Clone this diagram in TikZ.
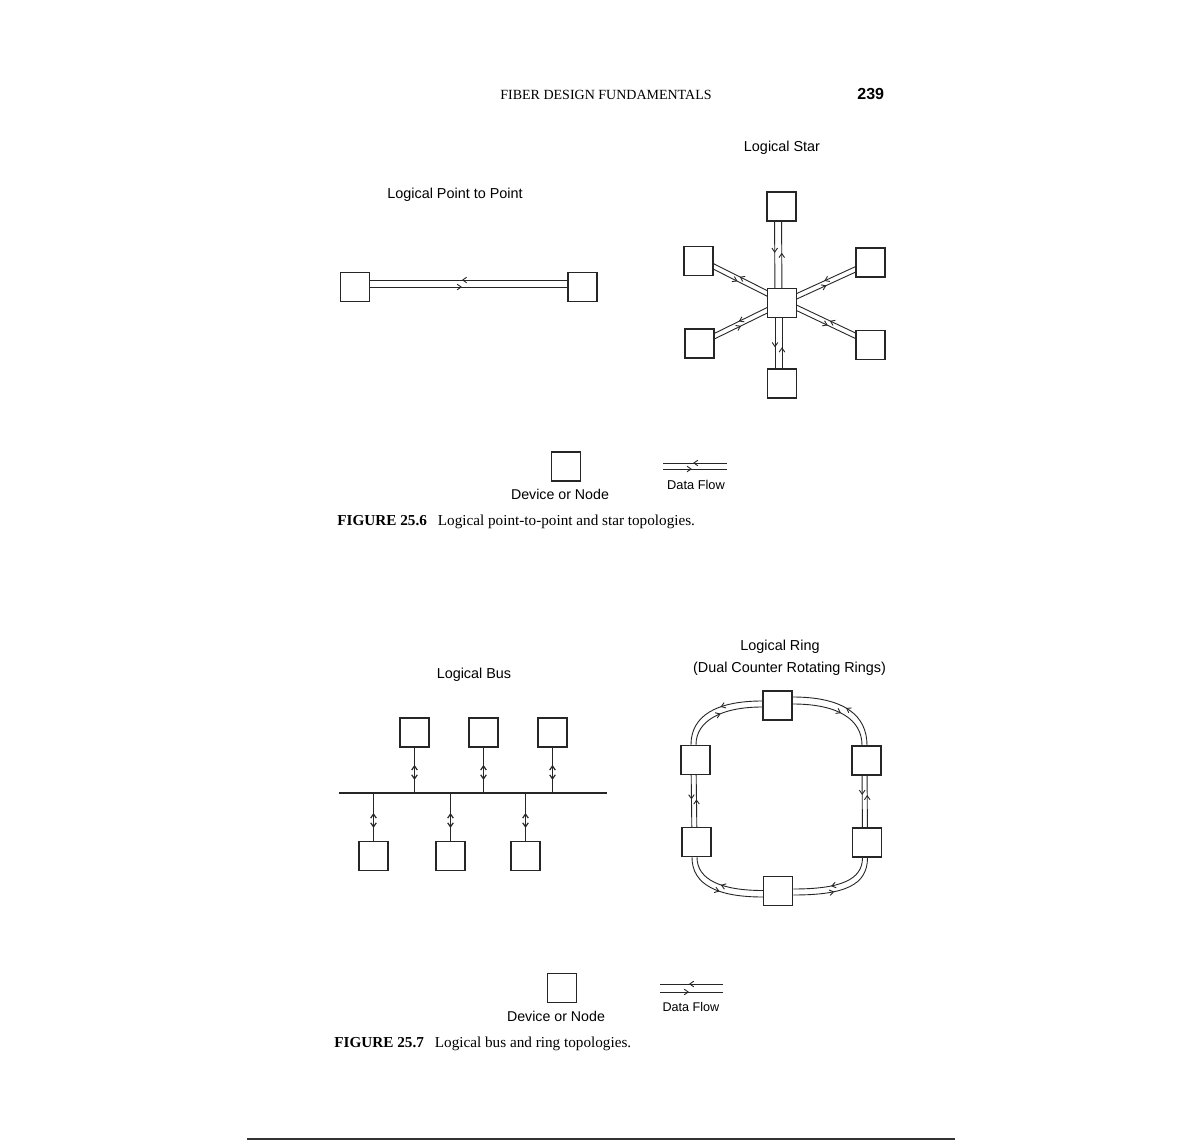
\documentclass[tikz,border=0pt]{standalone}
\usepackage{fontspec}
\setmainfont{Liberation Sans}
\newfontfamily\capfont{Liberation Serif}
\usetikzlibrary{arrows.meta,decorations.markings,calc,backgrounds}
\tikzset{
  fl/.tip={Straight Barb[length=2pt,width=2.8pt]},
  dev/.style={draw=black!85, fill=white, line width=0.75pt, minimum size=14.5pt, inner sep=0pt},
  fline/.style={draw=black!85, line width=0.45pt},
  busline/.style={draw=black!85, line width=0.6pt},
  fwd/.style={postaction={decorate},decoration={markings,mark=at position #1 with {\arrow{fl}}}},
  rev/.style={postaction={decorate},decoration={markings,mark=at position #1 with {\arrowreversed{fl}}}},
  bistem/.style 2 args={postaction={decorate},decoration={markings,
     mark=at position #1 with {\arrowreversed{fl}},
     mark=at position #2 with {\arrow{fl}}}},
  lbl/.style={font=\fontsize{7.2}{8.6}\selectfont, inner sep=0pt},
  capt/.style={font=\capfont\fontsize{7.6}{9}\selectfont, inner sep=0pt, anchor=base west}
}
\newcommand\twoway[6]{%
  \draw[fline,rev=#5] ($(#1.center)!#3!90:(#2.center)$) -- ($(#2.center)!#3!-90:(#1.center)$);
  \draw[fline,fwd=#6] ($(#1.center)!#4!-90:(#2.center)$) -- ($(#2.center)!#4!90:(#1.center)$);
}
\begin{document}
\begin{tikzpicture}[x=0.5pt,y=-0.5pt]
\useasboundingbox (0,0) rectangle (1191,1146);

% header
\node[anchor=base west, inner sep=0pt, font=\capfont\fontsize{7}{8}\selectfont] (hdr) at (500,99) {FIBER DESIGN FUNDAMENTALS};
\node[anchor=base west, inner sep=0pt, font=\bfseries\fontsize{8}{9}\selectfont] (pg) at (857,99) {239};

% ---------- Figure 25.6 ----------
\node[lbl] (tp2p) at (455,195) {Logical Point to Point};
\node[lbl] (tstar) at (782,148) {Logical Star};

\node[dev] (pL) at (355,287) {};
\node[dev] (pR) at (582.5,287) {};

\node[dev] (sT)  at (781.5,206.5) {};
\node[dev] (sC)  at (782,303) {};
\node[dev] (sB)  at (782,383.5) {};
\node[dev] (sUL) at (698.5,261) {};
\node[dev] (sUR) at (870.5,262.5) {};
\node[dev] (sLL) at (699.5,343.5) {};
\node[dev] (sLR) at (870.5,345) {};

% legend 1
\node[dev] (lg1) at (566,466.5) {};
\node[anchor=base, inner sep=0pt, font=\fontsize{7.1}{8.5}\selectfont] (lg1t) at (560,499) {Device or Node};
\coordinate (dfa1) at (663,463);
\coordinate (dfb1) at (727,463);
\coordinate (dfc1) at (663,469);
\coordinate (dfd1) at (727,469);
\draw[fline,rev=0.47] (dfa1) -- (dfb1);
\draw[fline,fwd=0.45] (dfc1) -- (dfd1);
\node[anchor=base, inner sep=0pt, font=\fontsize{6.4}{7.6}\selectfont] (lg1d) at (696,489) {Data Flow};

\node[capt] (cap1) at (337,525) {\textbf{FIGURE 25.6}\hspace{5.5pt}Logical point-to-point and star topologies.};

% ---------- Figure 25.7 ----------
\node[lbl] (tbus) at (474,675) {Logical Bus};
\node[lbl] (tring1) at (780,647) {Logical Ring};
\node[lbl] (tring2) at (789.5,669) {(Dual Counter Rotating Rings)};

% bus
\node[dev] (bt1) at (414.5,732.5) {};
\node[dev] (bt2) at (483.5,732.5) {};
\node[dev] (bt3) at (552.5,732.5) {};
\node[dev] (bb1) at (373.5,856) {};
\node[dev] (bb2) at (450.5,856) {};
\node[dev] (bb3) at (525.5,856) {};
\coordinate (busL) at (339,793);
\coordinate (busR) at (607,793);
\coordinate (j1) at (414.5,793);
\coordinate (j2) at (483.5,793);
\coordinate (j3) at (552.5,793);
\coordinate (k1) at (373.5,793);
\coordinate (k2) at (450.5,793);
\coordinate (k3) at (525.5,793);
\draw[busline] (busL) -- (busR);
\draw[busline,bistem={0.38}{0.71}] (bt1.south) -- (j1);
\draw[busline,bistem={0.38}{0.71}] (bt2.south) -- (j2);
\draw[busline,bistem={0.38}{0.71}] (bt3.south) -- (j3);
\draw[busline,bistem={0.27}{0.58}] (bb1.north) -- (k1);
\draw[busline,bistem={0.27}{0.58}] (bb2.north) -- (k2);
\draw[busline,bistem={0.27}{0.58}] (bb3.north) -- (k3);

% ring
\node[dev] (rt)  at (777.5,705.5) {};
\node[dev] (rlu) at (695.5,760) {};
\node[dev] (rru) at (866.5,760.5) {};
\node[dev] (rll) at (696.5,842) {};
\node[dev] (rrl) at (867,842.5) {};
\node[dev] (rb)  at (778,891) {};

% legend 2
\node[dev] (lg2) at (562,988) {};
\node[anchor=base, inner sep=0pt, font=\fontsize{7.1}{8.5}\selectfont] (lg2t) at (556,1021) {Device or Node};
\coordinate (dfa2) at (660,984);
\coordinate (dfb2) at (723,984);
\coordinate (dfc2) at (660,992);
\coordinate (dfd2) at (723,992);
\draw[fline,rev=0.46] (dfa2) -- (dfb2);
\draw[fline,fwd=0.46] (dfc2) -- (dfd2);
\node[anchor=base, inner sep=0pt, font=\fontsize{6.3}{7.6}\selectfont] (lg2d) at (691,1011) {Data Flow};

\node[capt] (cap2) at (334,1047) {\textbf{FIGURE 25.7}\hspace{5.5pt}Logical bus and ring topologies.};

% bottom rule
\draw[black!80, line width=0.8pt] (247,1139) -- (955,1139);

\begin{pgfonlayer}{background}
\fill[white] (0,0) rectangle (1191,1146);
% point to point
\twoway{pL}{pR}{3.5pt}{0pt}{0.47}{0.47}
% star
\twoway{sT}{sC}{0pt}{3.5pt}{0.48}{0.48}
\twoway{sC}{sB}{0pt}{3.5pt}{0.55}{0.55}
\twoway{sUL}{sC}{2.2pt}{0.3pt}{0.47}{0.47}
\twoway{sC}{sUR}{1.25pt}{1.25pt}{0.49}{0.49}
\twoway{sC}{sLR}{2.2pt}{0.3pt}{0.52}{0.52}
\twoway{sC}{sLL}{1.25pt}{1.25pt}{0.51}{0.51}
% ring verticals
\twoway{rlu}{rll}{0.25pt}{2.25pt}{0.48}{0.48}
\twoway{rru}{rrl}{0.25pt}{2.25pt}{0.42}{0.42}
% ring arcs
\draw[fline,fwd=0.45] ($(rt.west)+(0,-4.5)$) .. controls (716,701) and (691,716) .. ($(rlu.north)+(-4.5,0)$);
\draw[fline,rev=0.5] ($(rt.west)+(0,1.5)$) .. controls (721,707) and (696,721) .. ($(rlu.north)+(0.5,0)$);
\draw[fline,rev=0.55] ($(rt.east)+(0,-8.5)$) .. controls (845,697) and (867,716) .. ($(rru.north)+(0.5,0)$);
\draw[fline,fwd=0.55] ($(rt.east)+(0,-1.5)$) .. controls (839,704) and (862,720) .. ($(rru.north)+(-4.5,0)$);
\draw[fline,fwd=0.52] ($(rll.south)+(-4.5,0)$) .. controls (692,885) and (718,897) .. ($(rb.west)+(0,6)$);
\draw[fline,rev=0.48] ($(rll.south)+(0.5,0)$) .. controls (697,880) and (722,890.5) .. ($(rb.west)+(0,-0.5)$);
\draw[fline,fwd=0.44] ($(rb.east)+(0,4)$) .. controls (845,895) and (867.5,885) .. ($(rrl.south)+(0.5,0)$);
\draw[fline,rev=0.45] ($(rb.east)+(0,-2)$) .. controls (840,889) and (862.5,880) .. ($(rrl.south)+(-4.5,0)$);
\end{pgfonlayer}
\end{tikzpicture}
\end{document}
